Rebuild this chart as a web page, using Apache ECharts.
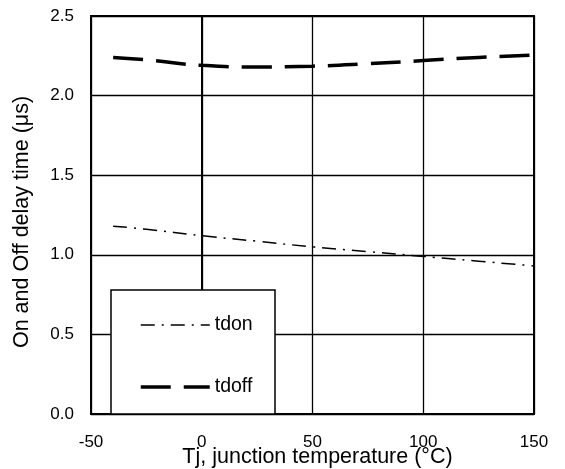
<!DOCTYPE html>
<html>
<head>
<meta charset="utf-8">
<script src="https://cdn.jsdelivr.net/npm/echarts@6/dist/echarts.min.js"></script>
<style>html,body{margin:0;padding:0;background:#fff;}#c{width:565px;height:469px;}</style>
</head>
<body>
<div id="c"></div>
<script>
const temps = [-40, -25, 0, 25, 50, 75, 100, 125, 150];
const tdon  = [1.18, 1.16, 1.12, 1.085, 1.05, 1.02, 0.99, 0.96, 0.93];
const tdoff = [2.24, 2.225, 2.19, 2.18, 2.185, 2.20, 2.22, 2.24, 2.255];
const seriesNames = ['tdon', 'tdoff'];
const xName = 'Tj, junction temperature (°C)';
const yName = 'On and Off delay time (μs)';

const pair = (xs, ys) => xs.map((x, i) => [x, ys[i]]);
const font = 'Liberation Sans, Arial, sans-serif';
const tdonStyle = {color: '#000', width: 1.5, type: [14, 7, 2, 7]};
const tdoffStyle = {color: '#000', width: 3.5, type: [30, 13]};
const chart = echarts.init(document.getElementById('c'), null, {renderer: 'canvas'});
chart.setOption({
  animation: false,
  backgroundColor: '#fff',
  grid: {left: 91, right: 31, top: 16, bottom: 55, show: true, borderColor: '#000', borderWidth: 2, z: 1,
         containLabel: false, outerBoundsMode: 'none'},
  xAxis: {
    type: 'value', min: -50, max: 150, interval: 50,
    name: xName, nameLocation: 'middle', nameGap: 32, nameMoveOverlap: false,
    nameTextStyle: {color: '#000', fontSize: 21.5, fontFamily: font, padding: [0, 0, 0, 10]},
    axisLine: {show: true, lineStyle: {color: '#000', width: 2}},
    axisTick: {show: false},
    axisLabel: {color: '#000', fontSize: 17, fontFamily: font, margin: 20},
    splitLine: {show: true, lineStyle: {color: '#000', width: 1.3}}
  },
  yAxis: {
    type: 'value', min: 0, max: 2.5, interval: 0.5,
    name: yName, nameLocation: 'middle', nameGap: 58, nameMoveOverlap: false,
    nameTextStyle: {color: '#000', fontSize: 21.5, fontFamily: font, padding: [0, 14, 0, 0]},
    axisLine: {show: true, lineStyle: {color: '#000', width: 2}},
    axisTick: {show: false},
    axisLabel: {color: '#000', fontSize: 17, fontFamily: font, margin: 17, formatter: v => v.toFixed(1)},
    splitLine: {show: true, lineStyle: {color: '#000', width: 1.3}}
  },
  graphic: [{
    type: 'rect', z: 50,
    shape: {x: 111, y: 290, width: 164, height: 124},
    style: {fill: '#fff', stroke: '#000', lineWidth: 1.5}
  }],
  legend: {
    z: 60, orient: 'vertical', left: 139, top: 315, itemGap: 42, padding: 0,
    itemWidth: 69, itemHeight: 18,
    textStyle: {color: '#000', fontSize: 19.5, fontFamily: font},
    data: [
      {name: seriesNames[0], itemStyle: {opacity: 0, borderWidth: 0}, lineStyle: tdonStyle},
      {name: seriesNames[1], itemStyle: {opacity: 0, borderWidth: 0}, lineStyle: tdoffStyle}
    ]
  },
  series: [
    {name: seriesNames[0], type: 'line', smooth: true, symbol: 'none', data: pair(temps, tdon),
     lineStyle: tdonStyle, itemStyle: {color: '#000'}},
    {name: seriesNames[1], type: 'line', smooth: true, symbol: 'none', data: pair(temps, tdoff),
     lineStyle: tdoffStyle, itemStyle: {color: '#000'}}
  ]
});
</script>
</body>
</html>
